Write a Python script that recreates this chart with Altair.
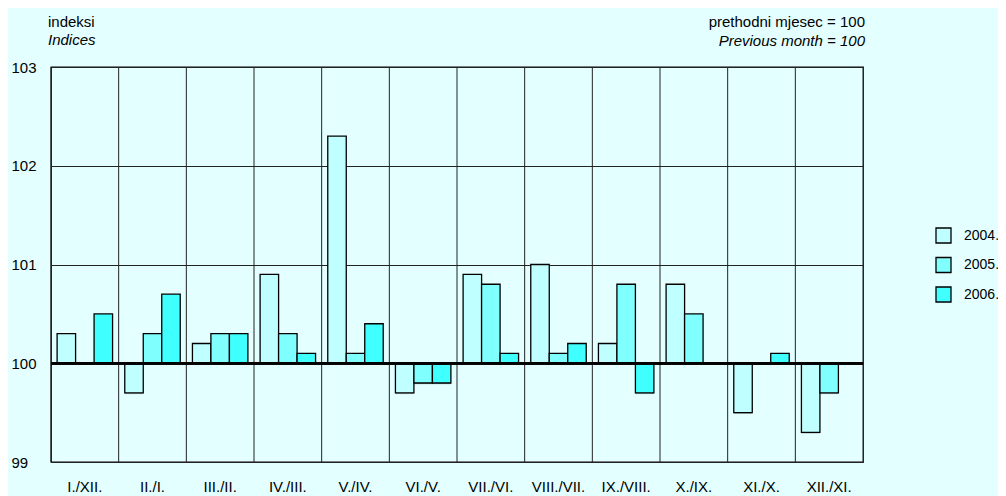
import altair as alt
import pandas as pd

categories = ["I./XII.", "II./I.", "III./II.", "IV./III.", "V./IV.", "VI./V.",
              "VII./VI.", "VIII./VII.", "IX./VIII.", "X./IX.", "XI./X.", "XII./XI."]
years = ["2004.", "2005.", "2006."]
v2004 = [100.3, 99.7, 100.2, 100.9, 102.3, 99.7, 100.9, 101.0, 100.2, 100.8, 99.5, 99.3]
v2005 = [100.0, 100.3, 100.3, 100.3, 100.1, 99.8, 100.8, 100.1, 100.8, 100.5, 100.0, 99.7]
v2006 = [100.5, 100.7, 100.3, 100.1, 100.4, 99.8, 100.1, 100.2, 99.7, 100.0, 100.1, None]
colors = ["#C0FFFF", "#80FFFF", "#40FFFF"]
y_ticks = [99, 100, 101, 102, 103]

rows = []
for yr, vals in zip(years, [v2004, v2005, v2006]):
    for c, v in zip(categories, vals):
        if v is not None:
            rows.append({"cat": c, "year": yr, "value": v})
df = pd.DataFrame(rows)
cat_df = pd.DataFrame({"cat": categories})

FONT = "Liberation Sans"
BG = "#E3FFFF"

x_scale = alt.Scale(paddingInner=0, paddingOuter=0)
x_axis = alt.Axis(title=None, labelAngle=0, grid=False, domain=False,
                  ticks=False, labelPadding=17, labelFontSize=15,
                  bandPosition=0.5, labelAlign="center",
                  labelFont=FONT, labelColor="#000000")
x_enc = alt.X("cat:N", sort=categories, scale=x_scale, axis=x_axis)
y_enc = alt.Y("value:Q", scale=alt.Scale(domain=[99, 103], nice=False, zero=False),
              axis=alt.Axis(title=None, values=y_ticks, grid=True, gridColor="#222222",
                            gridWidth=1, domain=False, ticks=False, labelAlign="left",
                            labelPadding=40, labelFontSize=15, labelFont=FONT,
                            labelColor="#000000", labelBaseline="middle", format="d"))
xo = alt.XOffset("year:N", sort=years,
                 scale=alt.Scale(paddingOuter=0.33, paddingInner=0))

shadow = alt.Chart(df).mark_bar(color="#000000", opacity=0.3, xOffset=1.2, yOffset=1.2,
                                strokeWidth=0).encode(
    x=x_enc, xOffset=xo, y=y_enc, y2=alt.datum(100)
)

bars = alt.Chart(df).mark_bar(stroke="#000000", strokeWidth=1.3).encode(
    x=x_enc, xOffset=xo, y=y_enc, y2=alt.datum(100),
    color=alt.Color("year:N", sort=years,
                    scale=alt.Scale(domain=years, range=colors),
                    legend=alt.Legend(title=None, orient="none", legendX=884, legendY=160,
                                      symbolType="square", symbolSize=225,
                                      symbolStrokeColor="#000000", symbolStrokeWidth=1.3,
                                      labelFontSize=14, labelFont=FONT, labelColor="#000000",
                                      labelOffset=12, rowPadding=8.5, padding=0))
)

vlines = alt.Chart(cat_df).mark_rule(color="#222222", strokeWidth=1).encode(
    x=alt.X("cat:N", sort=categories, scale=x_scale, bandPosition=0, axis=x_axis)
)

base_rule = alt.Chart(cat_df).mark_rule(color="#000000", strokeWidth=2.2).encode(
    y=alt.datum(100)
)

def header(txt, x, y, align, italic=False):
    return alt.Chart(pd.DataFrame({"t": [txt]})).mark_text(
        align=align, baseline="alphabetic", fontSize=15, font=FONT, color="#000000",
        fontStyle="italic" if italic else "normal"
    ).encode(text="t:N", x=alt.value(x), y=alt.value(y))

texts = (header("indeksi", -3, -40, "left")
         + header("Indices", -3, -22, "left", True)
         + header("prethodni mjesec = 100", 814, -40, "right")
         + header("Previous month = 100", 814, -21, "right", True))

chart = alt.layer(vlines, shadow, bars, base_rule, texts).properties(
    width=812, height=395,
    background=BG,
    padding={"left": 43, "top": 59, "right": 135, "bottom": 34},
    autosize=alt.AutoSizeParams(type="none"),
).configure_view(stroke="#000000", strokeWidth=1.3, fill=BG)

chart.save("out.html", embed_options={"renderer": "svg", "actions": False})
